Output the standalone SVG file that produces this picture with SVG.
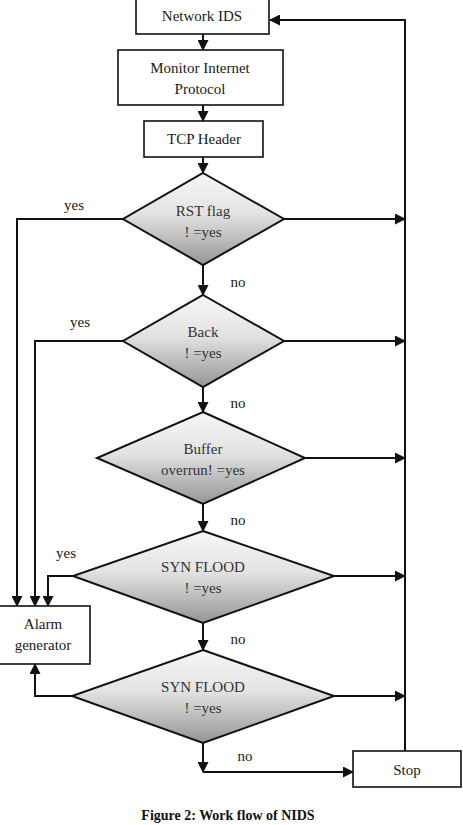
<svg xmlns="http://www.w3.org/2000/svg" width="463" height="825" viewBox="0 0 463 825">
<style>
.box{fill:#fff;stroke:#111;stroke-width:1.6}
.dia{fill:url(#g);stroke:#111;stroke-width:2}
.t{font-family:"Liberation Serif","Times New Roman",serif;font-size:15px;fill:#1a1a1a;text-anchor:middle}
.dt{font-family:"Liberation Serif","Times New Roman",serif;font-size:15px;fill:#333;text-anchor:middle}
.lbl{font-family:"Liberation Serif","Times New Roman",serif;font-size:15px;fill:#1a1a1a;text-anchor:middle}
.cap{font-family:"Liberation Serif","Times New Roman",serif;font-size:14px;font-weight:bold;fill:#111;text-anchor:middle}
.c{fill:none;stroke:#111;stroke-width:2}
.ca{fill:none;stroke:#111;stroke-width:2;marker-end:url(#ah)}
</style>
<defs>
<linearGradient id="g" x1="0" y1="0" x2="0" y2="1">
<stop offset="0" stop-color="#f7f7f7"/>
<stop offset="0.45" stop-color="#e2e2e2"/>
<stop offset="1" stop-color="#959595"/>
</linearGradient>
<marker id="ah" markerUnits="userSpaceOnUse" markerWidth="11" markerHeight="11" refX="10" refY="5.5" orient="auto" viewBox="0 0 11 11">
<path d="M0,0 L11,5.5 L0,11 z" fill="#111"/>
</marker>
</defs>
<g id="connectors">
<line class="ca" x1="203" y1="34" x2="203" y2="50"/>
<line class="ca" x1="203" y1="105" x2="203" y2="121"/>
<line class="ca" x1="203" y1="157" x2="203" y2="173"/>
<line class="ca" x1="203" y1="265" x2="203" y2="295"/>
<line class="ca" x1="203" y1="387" x2="203" y2="412"/>
<line class="ca" x1="203" y1="504" x2="203" y2="531"/>
<line class="ca" x1="203" y1="623" x2="203" y2="650"/>
<line class="ca" x1="203" y1="743" x2="203" y2="772"/>
<polyline class="ca" points="203,772 353,772"/>
<line class="ca" x1="284" y1="219" x2="405" y2="219"/>
<line class="ca" x1="284" y1="341" x2="405" y2="341"/>
<line class="ca" x1="305" y1="458" x2="405" y2="458"/>
<line class="ca" x1="334" y1="576" x2="405" y2="576"/>
<line class="ca" x1="334" y1="696" x2="405" y2="696"/>
<polyline class="ca" points="405,751 405,20 270,20"/>
<polyline class="ca" points="123,219 17,219 17,606"/>
<polyline class="ca" points="123,341 35,341 35,606"/>
<polyline class="ca" points="73,576 48,576 48,606"/>
<polyline class="ca" points="72,696 35,696 35,664"/>
<text class="lbl" x="74" y="210">yes</text>
<text class="lbl" x="80" y="327">yes</text>
<text class="lbl" x="66" y="558">yes</text>
<text class="lbl" x="238" y="287">no</text>
<text class="lbl" x="238" y="408">no</text>
<text class="lbl" x="238" y="525">no</text>
<text class="lbl" x="238" y="644">no</text>
<text class="lbl" x="245" y="761">no</text>
</g>
<g id="network-ids">
<rect class="box" x="136" y="-2" width="133" height="36"/>
<text class="t" x="202" y="21">Network IDS</text>
</g>
<g id="monitor">
<rect class="box" x="118" y="50" width="165" height="55"/>
<text class="t" x="200" y="73">Monitor Internet</text>
<text class="t" x="200" y="94">Protocol</text>
</g>
<g id="tcp-header">
<rect class="box" x="144" y="121" width="119" height="36"/>
<text class="t" x="204" y="144">TCP Header</text>
</g>
<g id="rst-flag">
<polygon class="dia" points="203,173 284,219 203,265 123,219"/>
<text class="dt" x="203" y="216">RST flag</text>
<text class="dt" x="203" y="237">! =yes</text>
</g>
<g id="back">
<polygon class="dia" points="203,295 284,341 203,387 123,341"/>
<text class="dt" x="203" y="337">Back</text>
<text class="dt" x="203" y="358">! =yes</text>
</g>
<g id="buffer-overrun">
<polygon class="dia" points="203,412 305,458 203,504 97,458"/>
<text class="dt" x="203" y="454">Buffer</text>
<text class="dt" x="203" y="475">overrun! =yes</text>
</g>
<g id="syn-flood-1">
<polygon class="dia" points="203,531 334,576 203,623 73,576"/>
<text class="dt" x="203" y="572">SYN FLOOD</text>
<text class="dt" x="203" y="593">! =yes</text>
</g>
<g id="syn-flood-2">
<polygon class="dia" points="203,650 334,696 203,743 72,696"/>
<text class="dt" x="203" y="692">SYN FLOOD</text>
<text class="dt" x="203" y="713">! =yes</text>
</g>
<g id="alarm">
<rect class="box" x="-2" y="606" width="92" height="58"/>
<text class="t" x="43" y="629">Alarm</text>
<text class="t" x="43" y="650">generator</text>
</g>
<g id="stop">
<rect class="box" x="353" y="751" width="108" height="36"/>
<text class="t" x="407" y="775">Stop</text>
</g>
<text class="cap" x="228" y="820">Figure 2: Work flow of NIDS</text>
</svg>
